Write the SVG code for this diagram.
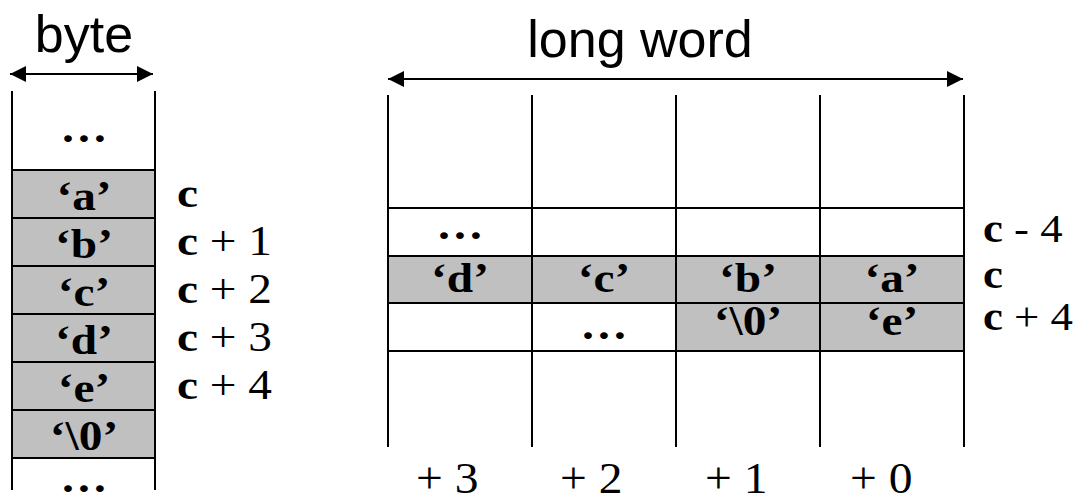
<svg xmlns="http://www.w3.org/2000/svg" width="1084" height="503" viewBox="0 0 1084 503">
<style>
.ln{stroke:#000;stroke-width:2;fill:none}
.cell{fill:#c0c0c0;stroke:#000;stroke-width:2}
.wcell{fill:#fff;stroke:#000;stroke-width:2}
.sans{font-family:"Liberation Sans",Arial,sans-serif;font-size:52px;fill:#000;text-anchor:middle}
.ser{font-family:"Liberation Serif","Times New Roman",Times,serif;font-size:43px;fill:#000}
.b{font-weight:bold}
.mid{text-anchor:middle}
</style>
<defs>
<marker id="ah" viewBox="0 0 10 10" refX="10" refY="5" markerWidth="16" markerHeight="16" markerUnits="userSpaceOnUse" orient="auto-start-reverse">
<path d="M0,0 L10,5 L0,10 z" fill="#000"/>
</marker>
</defs>
<g id="connectors">
<line class="ln" x1="10" y1="74" x2="153" y2="74" marker-start="url(#ah)" marker-end="url(#ah)"/>
<line class="ln" x1="388" y1="79" x2="963" y2="79" marker-start="url(#ah)" marker-end="url(#ah)"/>
</g>
<g id="byte-title"><text class="sans" x="84" y="52">byte</text></g>
<g id="longword-title"><text class="sans" x="640" y="57">long word</text></g>
<g id="byte-column">
<rect class="cell" x="12" y="170" width="143" height="48"/>
<rect class="cell" x="12" y="218" width="143" height="48"/>
<rect class="cell" x="12" y="266" width="143" height="48"/>
<rect class="cell" x="12" y="314" width="143" height="48"/>
<rect class="cell" x="12" y="362" width="143" height="48"/>
<rect class="cell" x="12" y="410" width="143" height="48"/>
<line class="ln" x1="12" y1="91" x2="12" y2="490"/>
<line class="ln" x1="155" y1="91" x2="155" y2="490"/>
<g class="ser b mid">
<text transform="translate(84 142) scale(1.1 1)">…</text>
<text transform="translate(84 210) scale(1.1 1)">‘a’</text>
<text transform="translate(84 258) scale(1.1 1)">‘b’</text>
<text transform="translate(84 306) scale(1.1 1)">‘c’</text>
<text transform="translate(84 354) scale(1.1 1)">‘d’</text>
<text transform="translate(84 402) scale(1.1 1)">‘e’</text>
<text transform="translate(84 450) scale(1.1 1)">‘\0’</text>
<text transform="translate(84 492) scale(1.1 1)">…</text>
</g>
</g>
<g id="byte-labels" class="ser">
<text transform="translate(177 207) scale(1.1 1)"><tspan class="b">c</tspan></text>
<text transform="translate(177 255) scale(1.1 1)"><tspan class="b">c</tspan> + 1</text>
<text transform="translate(177 303) scale(1.1 1)"><tspan class="b">c</tspan> + 2</text>
<text transform="translate(177 351) scale(1.1 1)"><tspan class="b">c</tspan> + 3</text>
<text transform="translate(177 399) scale(1.1 1)"><tspan class="b">c</tspan> + 4</text>
</g>
<g id="word-grid">
<rect class="wcell" x="388" y="208" width="576" height="48"/>
<rect class="cell" x="388" y="256" width="576" height="47"/>
<rect class="wcell" x="388" y="303" width="288" height="48"/>
<rect class="cell" x="676" y="303" width="288" height="48"/>
<line class="ln" x1="388" y1="95" x2="388" y2="447"/>
<line class="ln" x1="532" y1="95" x2="532" y2="447"/>
<line class="ln" x1="676" y1="95" x2="676" y2="447"/>
<line class="ln" x1="820" y1="95" x2="820" y2="447"/>
<line class="ln" x1="964" y1="95" x2="964" y2="447"/>
<g class="ser b mid">
<text transform="translate(460 239) scale(1.1 1)">…</text>
<text transform="translate(460 292) scale(1.1 1)">‘d’</text>
<text transform="translate(604 292) scale(1.1 1)">‘c’</text>
<text transform="translate(748 292) scale(1.1 1)">‘b’</text>
<text transform="translate(892 292) scale(1.1 1)">‘a’</text>
<text transform="translate(604 339) scale(1.1 1)">…</text>
<text transform="translate(748 335) scale(1.1 1)">‘\0’</text>
<text transform="translate(892 335) scale(1.1 1)">‘e’</text>
</g>
</g>
<g id="word-labels" class="ser">
<text transform="translate(983 242) scale(1.12 1)" style="font-size:40px"><tspan class="b">c</tspan> - 4</text>
<text transform="translate(983 288) scale(1.12 1)" style="font-size:40px"><tspan class="b">c</tspan></text>
<text transform="translate(983 330) scale(1.12 1)" style="font-size:40px"><tspan class="b">c</tspan> + 4</text>
</g>
<g id="offset-labels" class="ser">
<text transform="translate(416 493) scale(1.08 1)" style="font-size:44px">+ 3</text>
<text transform="translate(560 493) scale(1.08 1)" style="font-size:44px">+ 2</text>
<text transform="translate(705 493) scale(1.08 1)" style="font-size:44px">+ 1</text>
<text transform="translate(850 493) scale(1.08 1)" style="font-size:44px">+ 0</text>
</g>
</svg>
